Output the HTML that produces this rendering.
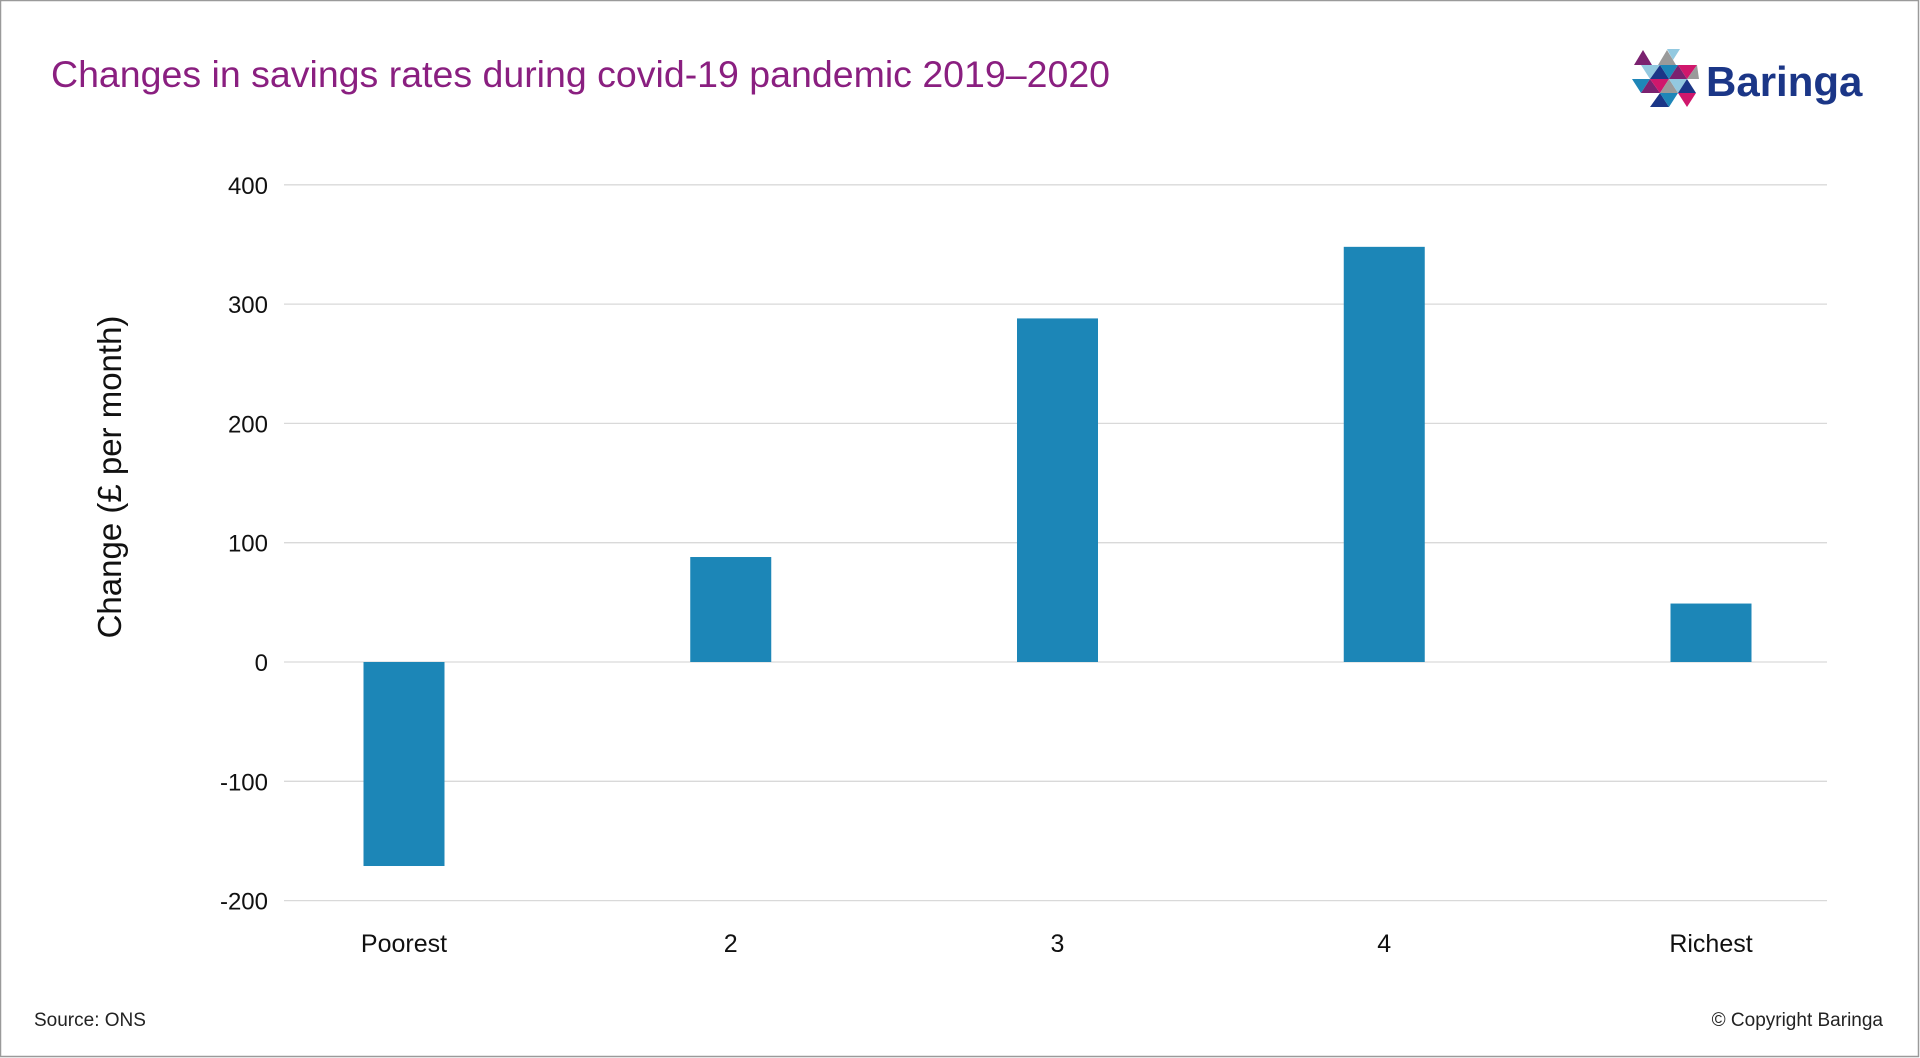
<!DOCTYPE html>
<html><head><meta charset="utf-8"><style>
body{margin:0;background:#fff;}
svg{display:block;font-family:"Liberation Sans",sans-serif;}
</style></head><body>
<svg id="chart" width="1920" height="1058" viewBox="0 0 1920 1058">
<rect x="0.5" y="0.5" width="1918" height="1056" fill="#fff" stroke="#9a9a9a" stroke-width="1.5"/>
<text x="51" y="87" font-size="37.5" fill="#8a1f80">Changes in savings rates during covid-19 pandemic 2019–2020</text>
<g>
<polygon points="1643,50 1652,65 1634,65" fill="#7b2270"/>
<polygon points="1667,49 1680,49 1673,60" fill="#93c9e0"/>
<polygon points="1658,65 1667,50 1676,65" fill="#9a9a9a"/>
<polygon points="1641,65 1660,65 1650,79" fill="#93c9e0"/>
<polygon points="1650,79 1660,65 1669,79" fill="#1b3687"/>
<polygon points="1660,65 1678,65 1669,79" fill="#1e86b8"/>
<polygon points="1669,79 1678,65 1687,79" fill="#7b2270"/>
<polygon points="1678,65 1697,65 1687,79" fill="#d0176c"/>
<polygon points="1687,79 1697,65 1699,79" fill="#9a9a9a"/>
<polygon points="1632,79 1650,79 1641,93" fill="#1e86b8"/>
<polygon points="1641,93 1650,79 1660,93" fill="#7b2270"/>
<polygon points="1650,79 1669,79 1660,93" fill="#d0176c"/>
<polygon points="1660,93 1669,79 1678,93" fill="#9a9a9a"/>
<polygon points="1669,79 1687,79 1678,93" fill="#93c9e0"/>
<polygon points="1678,93 1687,79 1696,93" fill="#1b3687"/>
<polygon points="1650,107 1660,93 1669,107" fill="#1b3687"/>
<polygon points="1660,93 1678,93 1669,107" fill="#1e86b8"/>
<polygon points="1678,93 1696,93 1687,107" fill="#d0176c"/>
<text x="1706" y="96" font-size="42" font-weight="bold" fill="#1b3687">Baringa</text>
</g>
<g id="grid"></g>
<g id="bars"></g>
<g id="labels"></g>
<text transform="translate(121,477) rotate(-90)" text-anchor="middle" font-size="33" fill="#111">Change (£ per month)</text>
<text x="34" y="1026" font-size="19" fill="#222">Source: ONS</text>
<text x="1883" y="1026" font-size="19" fill="#222" text-anchor="end">© Copyright Baringa</text>
</svg>
<script>
const categories = ["Poorest","2","3","4","Richest"];
const values = [-171, 88, 288, 348, 49];
const ticks = [400,300,200,100,0,-100,-200];
const tickLabels = ["400","300","200","100","0","-100","-200"];
const NS="http://www.w3.org/2000/svg";
function y(v){return 662-(v/100)*119.3;}
function xc(i){return 404+i*326.75;}
const grid=document.getElementById('grid'),bars=document.getElementById('bars'),labels=document.getElementById('labels');
ticks.forEach((t,i)=>{
  const l=document.createElementNS(NS,'line');
  l.setAttribute('x1',284);l.setAttribute('x2',1827);l.setAttribute('y1',y(t));l.setAttribute('y2',y(t));
  l.setAttribute('stroke','#d9d9d9');l.setAttribute('stroke-width','1.3');
  
  
  grid.appendChild(l);
  const tx=document.createElementNS(NS,'text');
  tx.setAttribute('x',268);tx.setAttribute('y',y(t)+9);tx.setAttribute('text-anchor','end');
  tx.setAttribute('font-size','24');tx.setAttribute('fill','#111');
  tx.textContent=tickLabels[i];
  
  
  labels.appendChild(tx);
});
categories.forEach((c,i)=>{
  const v=values[i];
  const r=document.createElementNS(NS,'rect');
  r.setAttribute('x',xc(i)-40.5);r.setAttribute('width',81);
  r.setAttribute('y',Math.min(y(v),y(0)));r.setAttribute('height',Math.abs(y(v)-y(0)));
  r.setAttribute('fill','#1c86b7');
  
  
  bars.appendChild(r);
  const tx=document.createElementNS(NS,'text');
  tx.setAttribute('x',xc(i));tx.setAttribute('y',952);tx.setAttribute('text-anchor','middle');
  tx.setAttribute('font-size','25');tx.setAttribute('fill','#111');
  tx.textContent=c;
  
  
  labels.appendChild(tx);
});
</script>
</body></html>
